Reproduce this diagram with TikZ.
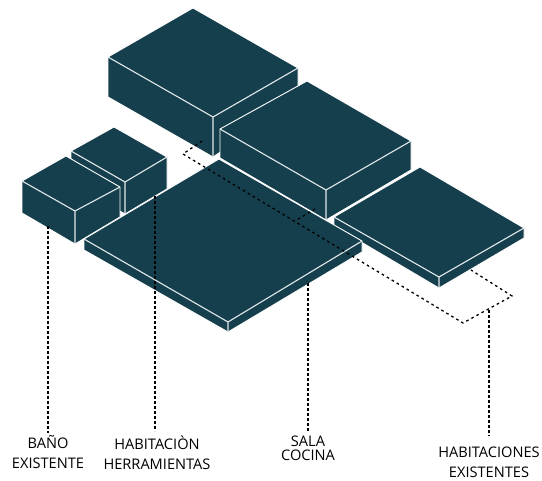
\documentclass[tikz,border=0pt]{standalone}
\usepackage{fontspec}
\usepackage{xcolor}
\setmainfont{Open Sans}
\definecolor{petrol}{RGB}{21,63,77}
\usetikzlibrary{positioning}

\begin{document}
\begin{tikzpicture}[x=1pt, y=-1pt, every node/.style={font=\fontsize{14.6}{20}\selectfont, text=black},
  block/.style={fill=petrol, draw=white, line width=0.9pt, line join=round},
  crease/.style={draw=white!88!petrol, line width=1.1pt, line join=round},
  plot/.style={draw=black, line width=1.3pt, dash pattern=on 2.6pt off 3.2pt},
  leader/.style={draw=black, line width=2pt, dash pattern=on 2.8pt off 2.2pt},
  tag/.style={align=center, inner sep=0pt}]
\useasboundingbox (0,0) rectangle (542,481);
\draw[block] (193,8) -- (298,68) -- (298,100) -- (213,157) -- (108,97) -- (108,57) -- cycle;
\draw[crease] (108,57) -- (213,117) -- (298,68) (213,117) -- (213,157);
\draw[block] (307,81) -- (411,141) -- (411,170) -- (326,220) -- (220,158) -- (220,129) -- cycle;
\draw[crease] (220,129) -- (326,190) -- (411,141) (326,190) -- (326,220);
\draw[block] (420,167) -- (524,228) -- (524,238) -- (439,288) -- (334,226) -- (334,217) -- cycle;
\draw[crease] (334,217) -- (439,277) -- (524,228) (439,277) -- (439,288);
\draw[block] (114,127) -- (167,157) -- (167,189) -- (125,214) -- (71,183) -- (71,151) -- cycle;
\draw[crease] (71,151) -- (125,182) -- (167,157) (125,182) -- (125,214);
\draw[block] (66,156) -- (120,187) -- (120,217) -- (75,244) -- (22,213) -- (22,181) -- cycle;
\draw[crease] (22,181) -- (75,211) -- (120,187) (75,211) -- (75,244);
\draw[block] (219,159) -- (362,241) -- (362,252) -- (228,332) -- (84,250) -- (84,239) -- cycle;
\draw[crease] (84,239) -- (228,322) -- (362,241) (228,322) -- (228,332);
\draw[plot] (202,141) -- (183,154) -- (463,323) -- (512,296) -- (471,270);
\draw[plot] (315,209) -- (295,221);
\node[tag] (bano) at (48,452.5) {BAÑO\\EXISTENTE};
\node[tag] (herramientas) at (157,452.5) {HABITACIÒN\\HERRAMIENTAS};
\node[tag] (sala) at (308,448.5) {SALA\\[-5.5pt]COCINA};
\node[tag] (existentes) at (489,462.5) {HABITACIONES\\EXISTENTES};
\coordinate (banotop) at (48,226);
\coordinate (herramientastop) at (155,196);
\coordinate (salatop) at (308,283);
\coordinate (existentestop) at (489,310);
\draw[leader] (banotop) -- (48,433);
\draw[leader] (herramientastop) -- (155,431);
\draw[leader] (salatop) -- (308,431);
\draw[leader] (existentestop) -- (489,436);
\end{tikzpicture}
\end{document}
